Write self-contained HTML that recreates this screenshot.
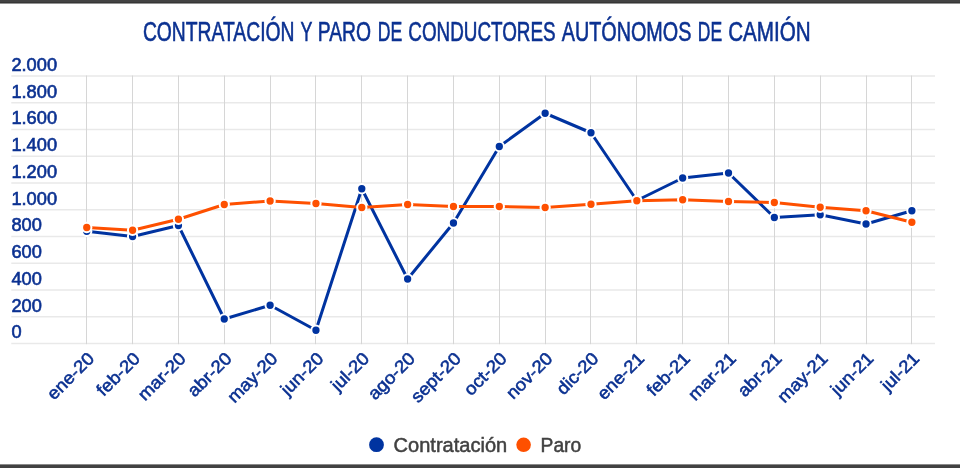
<!DOCTYPE html><html lang="es"><head><meta charset="utf-8"><title>Contratación y paro de conductores autónomos de camión</title>
<style>html,body{margin:0;padding:0;background:#fff;}body{width:960px;height:468px;overflow:hidden;position:relative;font-family:"Liberation Sans",sans-serif;}svg{position:absolute;left:0;top:0;display:block;}text{font-family:"Liberation Sans",sans-serif;}</style></head><body>
<svg width="960" height="468" viewBox="0 0 960 468">
<rect x="0" y="0" width="960" height="468" fill="#ffffff"/>
<rect x="0" y="0" width="960" height="2" fill="#424242"/><rect x="0" y="2" width="960" height="1" fill="#363636"/><rect x="0" y="3" width="960" height="1" fill="#939393"/>
<rect x="0" y="464" width="960" height="1" fill="#8a8a8a"/><rect x="0" y="465" width="960" height="3" fill="#424242"/>
<g stroke="#e9e9e9" stroke-width="1.5" fill="none">
<path d="M11.3 343.40H935"/>
<path d="M11.3 316.66H935"/>
<path d="M11.3 289.92H935"/>
<path d="M11.3 263.18H935"/>
<path d="M11.3 236.44H935"/>
<path d="M11.3 209.70H935"/>
<path d="M11.3 182.96H935"/>
<path d="M11.3 156.22H935"/>
<path d="M11.3 129.48H935"/>
<path d="M11.3 102.74H935"/>
<path d="M11.3 76.00H935"/>
</g><g stroke="#d6d6d6" stroke-width="1" fill="none">
<path d="M86.5 75.50V344.20"/>
<path d="M132.5 75.50V344.20"/>
<path d="M178.5 75.50V344.20"/>
<path d="M224.5 75.50V344.20"/>
<path d="M270.5 75.50V344.20"/>
<path d="M315.5 75.50V344.20"/>
<path d="M361.5 75.50V344.20"/>
<path d="M407.5 75.50V344.20"/>
<path d="M453.5 75.50V344.20"/>
<path d="M499.5 75.50V344.20"/>
<path d="M545.5 75.50V344.20"/>
<path d="M590.5 75.50V344.20"/>
<path d="M636.5 75.50V344.20"/>
<path d="M682.5 75.50V344.20"/>
<path d="M728.5 75.50V344.20"/>
<path d="M774.5 75.50V344.20"/>
<path d="M820.5 75.50V344.20"/>
<path d="M866.5 75.50V344.20"/>
<path d="M911.5 75.50V344.20"/>
</g>
<text y="40.7" font-size="27" fill="#0b3191" stroke="#0b3191" stroke-width="0.6"><tspan x="142.89" textLength="151.61" lengthAdjust="spacingAndGlyphs">CONTRATACIÓN</tspan> <tspan x="300.57" textLength="11.55" lengthAdjust="spacingAndGlyphs">Y</tspan> <tspan x="317.76" textLength="53.24" lengthAdjust="spacingAndGlyphs">PARO</tspan> <tspan x="377.77" textLength="24.54" lengthAdjust="spacingAndGlyphs">DE</tspan> <tspan x="408.28" textLength="147.38" lengthAdjust="spacingAndGlyphs">CONDUCTORES</tspan> <tspan x="561.72" textLength="129.66" lengthAdjust="spacingAndGlyphs">AUTÓNOMOS</tspan> <tspan x="697.77" textLength="24.35" lengthAdjust="spacingAndGlyphs">DE</tspan> <tspan x="728.16" textLength="82.46" lengthAdjust="spacingAndGlyphs">CAMIÓN</tspan></text>
<g font-size="17.8" fill="#0b3191" stroke="#0b3191" stroke-width="0.6">
<text transform="translate(11.4 338.25) scale(1.025 1)">0</text>
<text transform="translate(11.4 311.51) scale(1.025 1)">200</text>
<text transform="translate(11.4 284.77) scale(1.025 1)">400</text>
<text transform="translate(11.4 258.03) scale(1.025 1)">600</text>
<text transform="translate(11.4 231.29) scale(1.025 1)">800</text>
<text transform="translate(11.4 204.55) scale(1.025 1)">1.000</text>
<text transform="translate(11.4 177.81) scale(1.025 1)">1.200</text>
<text transform="translate(11.4 151.07) scale(1.025 1)">1.400</text>
<text transform="translate(11.4 124.33) scale(1.025 1)">1.600</text>
<text transform="translate(11.4 97.59) scale(1.025 1)">1.800</text>
<text transform="translate(11.4 70.85) scale(1.025 1)">2.000</text>
</g>
<g font-size="17.5" fill="#0b3191" stroke="#0b3191" stroke-width="0.55" text-anchor="end">
<text transform="translate(95.30 359.60) rotate(-45) scale(1.07 1)">ene-20</text>
<text transform="translate(141.14 359.60) rotate(-45) scale(1.07 1)">feb-20</text>
<text transform="translate(186.98 359.60) rotate(-45) scale(1.07 1)">mar-20</text>
<text transform="translate(232.82 359.60) rotate(-45) scale(1.07 1)">abr-20</text>
<text transform="translate(278.66 359.60) rotate(-45) scale(1.07 1)">may-20</text>
<text transform="translate(324.50 359.60) rotate(-45) scale(1.07 1)">jun-20</text>
<text transform="translate(370.34 359.60) rotate(-45) scale(1.07 1)">jul-20</text>
<text transform="translate(416.18 359.60) rotate(-45) scale(1.07 1)">ago-20</text>
<text transform="translate(462.02 359.60) rotate(-45) scale(1.07 1)">sept-20</text>
<text transform="translate(507.86 359.60) rotate(-45) scale(1.07 1)">oct-20</text>
<text transform="translate(553.70 359.60) rotate(-45) scale(1.07 1)">nov-20</text>
<text transform="translate(599.54 359.60) rotate(-45) scale(1.07 1)">dic-20</text>
<text transform="translate(645.38 359.60) rotate(-45) scale(1.07 1)">ene-21</text>
<text transform="translate(691.22 359.60) rotate(-45) scale(1.07 1)">feb-21</text>
<text transform="translate(737.06 359.60) rotate(-45) scale(1.07 1)">mar-21</text>
<text transform="translate(782.90 359.60) rotate(-45) scale(1.07 1)">abr-21</text>
<text transform="translate(828.74 359.60) rotate(-45) scale(1.07 1)">may-21</text>
<text transform="translate(874.58 359.60) rotate(-45) scale(1.07 1)">jun-21</text>
<text transform="translate(920.42 359.60) rotate(-45) scale(1.07 1)">jul-21</text>
</g>
<polyline points="86.75,231.25 132.59,236.50 178.43,225.50 224.27,319.00 270.11,305.25 315.95,330.25 361.79,188.75 407.63,279.00 453.47,223.00 499.31,146.50 545.15,113.25 590.99,132.75 636.83,200.50 682.67,178.00 728.51,173.00 774.35,217.50 820.19,214.75 866.03,224.00 911.87,210.75" fill="none" stroke="#0033a0" stroke-width="3" stroke-linejoin="round" stroke-linecap="round"/>
<g fill="#0033a0" stroke="#ffffff" stroke-width="2">
<circle cx="86.75" cy="231.25" r="4.65"/>
<circle cx="132.59" cy="236.50" r="4.65"/>
<circle cx="178.43" cy="225.50" r="4.65"/>
<circle cx="224.27" cy="319.00" r="4.65"/>
<circle cx="270.11" cy="305.25" r="4.65"/>
<circle cx="315.95" cy="330.25" r="4.65"/>
<circle cx="361.79" cy="188.75" r="4.65"/>
<circle cx="407.63" cy="279.00" r="4.65"/>
<circle cx="453.47" cy="223.00" r="4.65"/>
<circle cx="499.31" cy="146.50" r="4.65"/>
<circle cx="545.15" cy="113.25" r="4.65"/>
<circle cx="590.99" cy="132.75" r="4.65"/>
<circle cx="636.83" cy="200.50" r="4.65"/>
<circle cx="682.67" cy="178.00" r="4.65"/>
<circle cx="728.51" cy="173.00" r="4.65"/>
<circle cx="774.35" cy="217.50" r="4.65"/>
<circle cx="820.19" cy="214.75" r="4.65"/>
<circle cx="866.03" cy="224.00" r="4.65"/>
<circle cx="911.87" cy="210.75" r="4.65"/>
</g>
<polyline points="86.75,227.50 132.59,230.25 178.43,219.25 224.27,204.50 270.11,201.00 315.95,203.50 361.79,207.50 407.63,204.50 453.47,206.50 499.31,206.50 545.15,207.50 590.99,204.25 636.83,200.75 682.67,199.75 728.51,201.50 774.35,202.50 820.19,207.25 866.03,210.75 911.87,222.25" fill="none" stroke="#fe5000" stroke-width="3" stroke-linejoin="round" stroke-linecap="round"/>
<g fill="#fe5000" stroke="#ffffff" stroke-width="2">
<circle cx="86.75" cy="227.50" r="4.65"/>
<circle cx="132.59" cy="230.25" r="4.65"/>
<circle cx="178.43" cy="219.25" r="4.65"/>
<circle cx="224.27" cy="204.50" r="4.65"/>
<circle cx="270.11" cy="201.00" r="4.65"/>
<circle cx="315.95" cy="203.50" r="4.65"/>
<circle cx="361.79" cy="207.50" r="4.65"/>
<circle cx="407.63" cy="204.50" r="4.65"/>
<circle cx="453.47" cy="206.50" r="4.65"/>
<circle cx="499.31" cy="206.50" r="4.65"/>
<circle cx="545.15" cy="207.50" r="4.65"/>
<circle cx="590.99" cy="204.25" r="4.65"/>
<circle cx="636.83" cy="200.75" r="4.65"/>
<circle cx="682.67" cy="199.75" r="4.65"/>
<circle cx="728.51" cy="201.50" r="4.65"/>
<circle cx="774.35" cy="202.50" r="4.65"/>
<circle cx="820.19" cy="207.25" r="4.65"/>
<circle cx="866.03" cy="210.75" r="4.65"/>
<circle cx="911.87" cy="222.25" r="4.65"/>
</g>
<circle cx="376.5" cy="444.7" r="7.4" fill="#0033a0"/><circle cx="523.6" cy="444.8" r="7.3" fill="#fe5000"/>
<g font-size="19.7" fill="#414141" stroke="#414141" stroke-width="0.5"><text x="393.6" y="451.8" textLength="113.6" lengthAdjust="spacingAndGlyphs">Contratación</text><text x="540.6" y="451.8" textLength="40.6" lengthAdjust="spacingAndGlyphs">Paro</text></g>
</svg></body></html>
